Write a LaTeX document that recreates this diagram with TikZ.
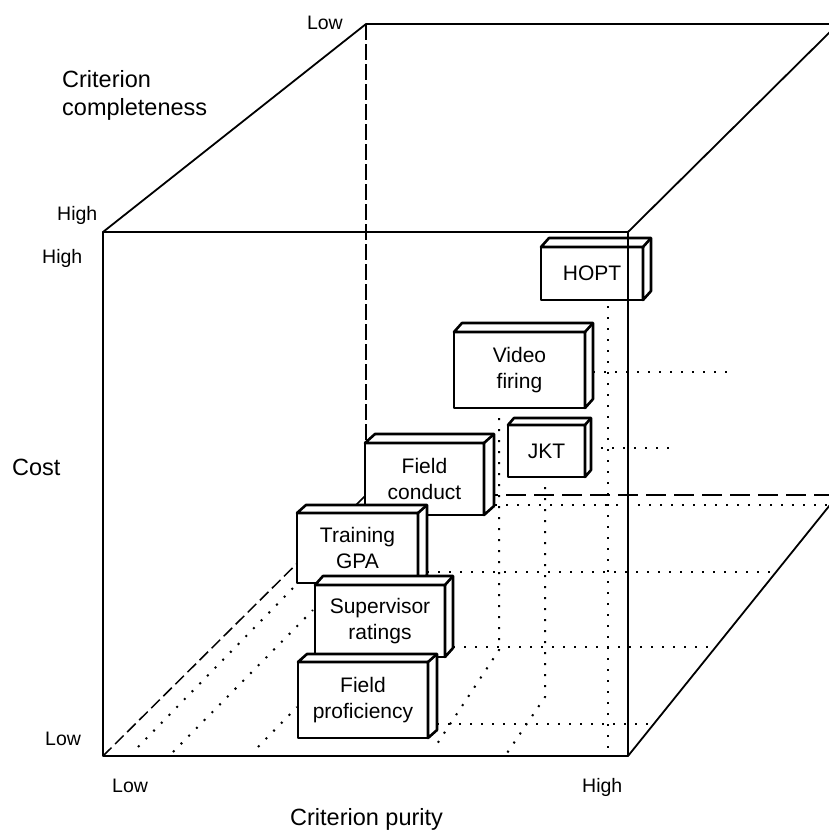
\documentclass[tikz,border=0pt]{standalone}
\usepackage{fontspec}
\setmainfont{Liberation Sans}
\usetikzlibrary{calc}
\newcommand\bxfont{\fontsize{21}{26}\selectfont}
\newcommand\axisfont{\fontsize{23.5}{28}\selectfont}
\newcommand\limfont{\fontsize{19.5}{23}\selectfont}
\tikzset{
  cubeline/.style={line width=1.8pt, line cap=round, line join=round},
  hidvert/.style={line width=1.2pt, dash pattern=on 16pt off 4pt},
  hidback/.style={line width=1.7pt, dash pattern=on 20pt off 8pt},
  hiddiag/.style={line width=1.5pt, dash pattern=on 12pt off 5pt},
  dotline/.style={line width=2pt, dash pattern=on 2pt off 9pt},
  boxline/.style={line width=2.6pt, line join=round},
  cbox/.style={draw, boxline, fill=white, rectangle, inner sep=0pt, outer sep=0pt, align=center, font=\bxfont},
  axlabel/.style={inner sep=0pt, font=\axisfont},
  limlabel/.style={inner sep=0pt, font=\limfont},
}
\newcommand\extrude[3]{%
  \filldraw[boxline, fill=white] (#1.north west) -- ++(#2,-#3) -- ($(#1.north east)+(#2,-#3)$) -- ($(#1.south east)+(#2,-#3)$) -- (#1.south east) -- (#1.north east) -- cycle;
  \draw[boxline] (#1.north east) -- ++(#2,-#3);
}
\begin{document}
\begin{tikzpicture}[x=1pt,y=-1pt]
\useasboundingbox (0,0) rectangle (829,830);
\clip (0,0) rectangle (829,830);
% cube corners
\coordinate (FTL) at (103,232);
\coordinate (FTR) at (628,232);
\coordinate (FBR) at (628,756);
\coordinate (FBL) at (103,756);
\coordinate (BTL) at (366,24);
\coordinate (BTR) at (838,24);
\coordinate (BBL) at (366,495);
\coordinate (BBR) at (838,495);
% hidden edges
\draw[hidvert] (BTL) -- (BBL);
\draw[hidback] (BBL) -- (BBR);
\draw[hiddiag] (FBL) -- (BBL);
% dotted projection lines
\draw[dotline] (593,372) -- (728,372);
\draw[dotline] (590,448) -- (677,448);
\draw[dotline] (495,505) -- (829,505);
\draw[dotline] (427,572) -- (776,572);
\draw[dotline] (453,647) -- (716,647);
\draw[dotline] (437,724) -- (652,724);
\draw[dotline] (608,306) -- (608,748);
\draw[dotline] (545,487) -- (545,697) -- (505,756);
\draw[dotline] (499,418) -- (499,650) -- (435,747);
\draw[dotline] (138,747) -- (295,586);
\draw[dotline] (173,752) -- (313,610);
\draw[dotline] (258,747) -- (297,707);
% boxes
\node[cbox, minimum width=102pt, minimum height=53pt] (hopt) at (592,273.5) {HOPT};
\extrude{hopt}{8}{9}
\node[cbox, minimum width=131pt, minimum height=76pt] (video) at (519.5,370) {Video\\firing};
\extrude{video}{8}{9}
\node[cbox, minimum width=77pt, minimum height=52pt] (jkt) at (546.5,451) {JKT};
\extrude{jkt}{6}{7}
\node[cbox, minimum width=119pt, minimum height=72pt] (fcond) at (424.5,479) {Field\\conduct};
\extrude{fcond}{10}{9}
\node[cbox, minimum width=121pt, minimum height=70pt] (gpa) at (357.5,548) {Training\\GPA};
\extrude{gpa}{9}{8}
\node[cbox, minimum width=130pt, minimum height=72pt] (sup) at (380,621) {Supervisor\\ratings};
\extrude{sup}{8}{9}
\node[cbox, minimum width=130pt, minimum height=76pt] (fprof) at (363,700) {Field\\proficiency};
\extrude{fprof}{9}{8}
% visible cube edges
\draw[cubeline] (FTL) rectangle (FBR);
\draw[cubeline] (FTL) -- (BTL) -- (BTR);
\draw[cubeline] (FTR) -- (BTR);
\draw[cubeline] (FBR) -- (BBR);
% labels
\node[limlabel, anchor=base east] (lowcomp) at (343,29) {Low};
\node[axlabel, anchor=base west] (critc1) at (62,87) {Criterion};
\node[axlabel, anchor=base west] (critc2) at (62,115) {completeness};
\node[limlabel, anchor=base west] (highcomp) at (57,220) {High};
\node[limlabel, anchor=base west] (highcost) at (42,263) {High};
\node[axlabel, anchor=base west] (cost) at (12,475) {Cost};
\node[limlabel, anchor=base west] (lowcost) at (45,745) {Low};
\node[limlabel, anchor=base west] (lowpur) at (112,792) {Low};
\node[limlabel, anchor=base west] (highpur) at (582,792) {High};
\node[axlabel, anchor=base west] (critp) at (290,825) {Criterion purity};
\end{tikzpicture}
\end{document}
